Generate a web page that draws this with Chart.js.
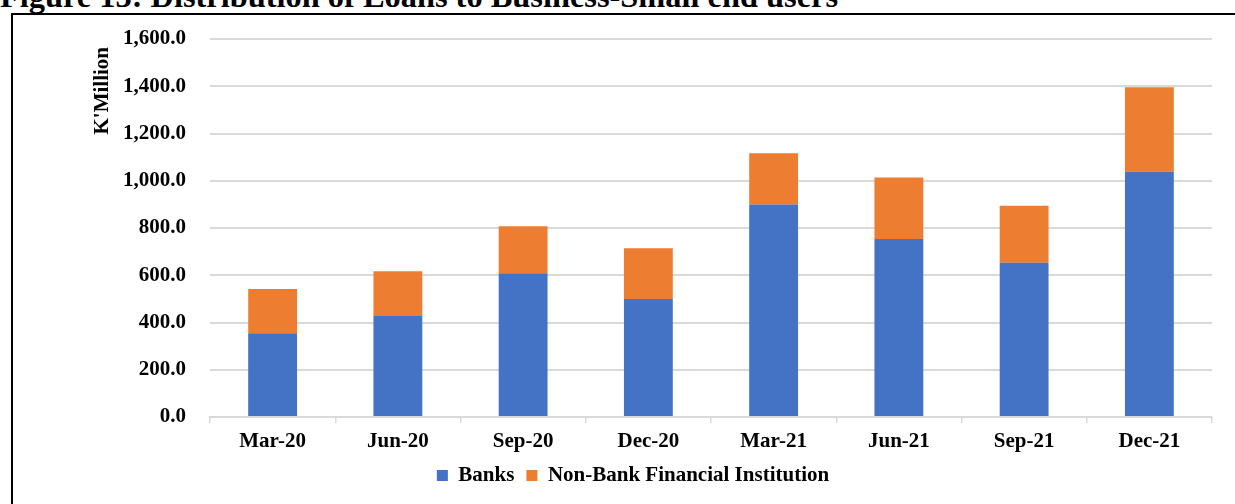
<!DOCTYPE html>
<html>
<head>
<meta charset="utf-8">
<script src="https://cdn.jsdelivr.net/npm/chart.js@4/dist/chart.umd.min.js"></script>
<style>
  html, body { margin: 0; padding: 0; background: #ffffff; }
  body { width: 1235px; height: 504px; position: relative; overflow: hidden; }
  #heading {
    position: absolute; left: 0; top: -20px; margin: 0;
    font: bold 32.4px "Liberation Serif", "Times New Roman", serif;
    line-height: 32px; white-space: nowrap; color: #000;
  }
  #frame {
    position: absolute; left: 11px; top: 13px; width: 1400px; height: 600px;
    border-left: 2px solid #000; border-top: 2px solid #000;
  }
  #wrap { position: absolute; left: 0; top: 0; width: 1235px; height: 504px; }
</style>
</head>
<body>
<div id="heading">Figure 13: Distribution of Loans to Business-Small end users</div>
<div id="frame"></div>
<div id="wrap"><canvas id="chart" width="1235" height="504"></canvas></div>
<script>
// Quarterly loans to small business end users, K'Million
const categories = ['Mar-20', 'Jun-20', 'Sep-20', 'Dec-20', 'Mar-21', 'Jun-21', 'Sep-21', 'Dec-21'];
const banks      = [355, 427, 608, 499, 900, 753, 653, 1038];
const nonBank    = [187, 190, 199, 215, 216, 261, 241, 358];
const seriesNames = ['Banks', 'Non-Bank Financial Institution'];
const axisTitle = "K'Million";

const serif = '"Liberation Serif", "Times New Roman", serif';
const gridGray = '#d9d9d9';

// rotated caption for the value axis, sitting near the top of the axis
const axisCaption = {
  id: 'axisCaption',
  afterDraw(chart) {
    const y = chart.scales.y;
    const ctx = chart.ctx;
    ctx.save();
    ctx.font = 'bold 21px ' + serif;
    ctx.fillStyle = '#000';
    ctx.textAlign = 'right';
    ctx.textBaseline = 'middle';
    ctx.translate(103, y.top + 8);
    ctx.rotate(-Math.PI / 2);
    ctx.fillText(axisTitle, 0, 0);
    ctx.restore();
  }
};

new Chart(document.getElementById('chart'), {
  type: 'bar',
  data: {
    labels: categories,
    datasets: [
      { label: seriesNames[0], data: banks, backgroundColor: '#4472C4', borderWidth: 0 },
      { label: seriesNames[1], data: nonBank, backgroundColor: '#ED7D31', borderWidth: 0 }
    ]
  },
  options: {
    responsive: false,
    animation: false,
    devicePixelRatio: 1,
    layout: { padding: { left: 54, right: 23, top: 39, bottom: 8 } },
    datasets: { bar: { barPercentage: 0.39, categoryPercentage: 1.0 } },
    plugins: {
      tooltip: { enabled: false },
      title: { display: false },
      legend: {
        position: 'bottom',
        labels: {
          boxWidth: 11, boxHeight: 11, padding: 12,
          color: '#000',
          font: { family: serif, size: 21, weight: 'bold' }
        }
      }
    },
    scales: {
      x: {
        stacked: true,
        afterFit(scale) { scale.height = 36; },
        grid: { display: true, drawOnChartArea: false, drawTicks: true, tickLength: 6, color: gridGray, lineWidth: 1.5, offset: true },
        border: { display: true, color: gridGray, width: 2 },
        ticks: { color: '#000', padding: 6, maxRotation: 0, font: { family: serif, size: 21, weight: 'bold' } }
      },
      y: {
        stacked: true,
        min: 0, max: 1600,
        afterFit(scale) { scale.width = 156; },
        grid: { color: gridGray, lineWidth: 2, drawTicks: false },
        border: { display: false },
        ticks: {
          stepSize: 200, padding: 24, color: '#000',
          font: { family: serif, size: 21, weight: 'bold' },
          callback: v => v.toLocaleString('en-US', { minimumFractionDigits: 1, maximumFractionDigits: 1 })
        }
      }
    }
  },
  plugins: [axisCaption]
});
</script>
</body>
</html>
